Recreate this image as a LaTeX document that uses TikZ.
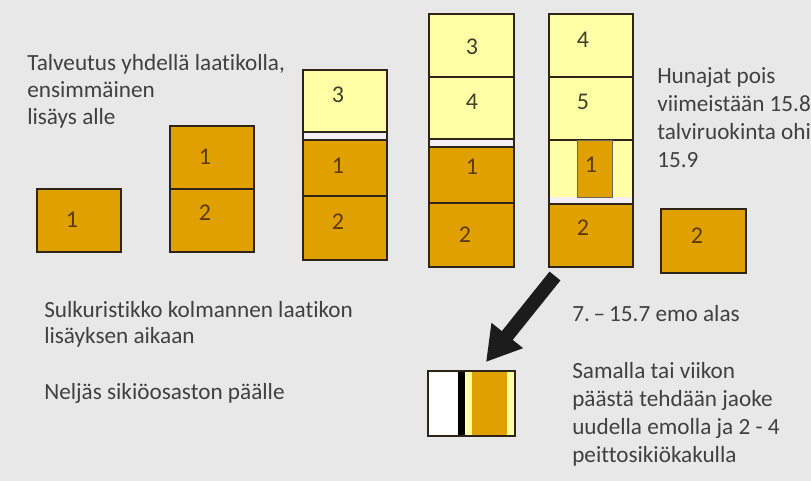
\documentclass[tikz,border=0pt]{standalone}
\usepackage{fontspec}
\setmainfont{Carlito}[RawFeature={-liga;-calt;-clig}]
\usetikzlibrary{arrows.meta}
\definecolor{bgc}{HTML}{E8E8E8}
\definecolor{orc}{HTML}{E0A000}
\definecolor{yec}{HTML}{FFFFA6}
\definecolor{gapc}{HTML}{F3EFF5}
\definecolor{edc}{HTML}{2E2418}
\definecolor{txc}{HTML}{404040}
\definecolor{nbr}{HTML}{5C3A00}
\definecolor{nye}{HTML}{40402A}
\definecolor{arc}{HTML}{1C1C1C}
\begin{document}
\begin{tikzpicture}[x=0.75pt,y=-0.75pt,
  obox/.style={fill=orc,draw=edc,line width=1.7pt},
  ybox/.style={fill=yec,draw=edc,line width=1.7pt},
  nb/.style={font=\fontsize{18}{20}\selectfont,text=nbr,inner sep=0pt},
  ny/.style={font=\fontsize{18}{20}\selectfont,text=nye,inner sep=0pt},
  txt/.style={text=txc,align=left,anchor=base west,inner sep=0pt}]
\fill[bgc] (0,0) rectangle (811,481);
\useasboundingbox (0,0) rectangle (811,481);
% box A
\draw[obox] (37,189) rectangle (121,252);
\node[nb] (a1) at (72,220) {1};
% box B
\draw[obox] (170,126) rectangle (254,189);
\draw[obox] (170,189) rectangle (254,252);
\node[nb] (b1) at (205,157) {1};
\node[nb] (b2) at (205,213) {2};
% box C
\fill[gapc] (303,132) rectangle (387,140);
\draw[ybox] (303,70) rectangle (387,132);
\draw[obox] (303,140) rectangle (387,196);
\draw[obox] (303,196) rectangle (387,260);
\draw[edc,line width=1.7pt] (303,132) -- (303,140) (387,132) -- (387,140);
\node[ny] (c3) at (338,95) {3};
\node[nb] (c1) at (338,166) {1};
\node[nb] (c2) at (338,222) {2};
% box D
\fill[gapc] (429,139) rectangle (514,147);
\draw[ybox] (429,14) rectangle (514,77);
\draw[ybox] (429,77) rectangle (514,139);
\draw[obox] (429,147) rectangle (514,203);
\draw[obox] (429,203) rectangle (514,267);
\draw[edc,line width=1.7pt] (429,139) -- (429,147) (514,139) -- (514,147);
\node[ny] (d3) at (472,47) {3};
\node[ny] (d4) at (472,102) {4};
\node[nb] (d1) at (472,167) {1};
\node[nb] (d2) at (465,235) {2};
% box E
\fill[gapc] (549,197) rectangle (633,204);
\fill[yec] (549,140) rectangle (633,197);
\draw[ybox] (549,14) rectangle (633,77);
\draw[ybox] (549,77) rectangle (633,140);
\draw[fill=orc,draw=edc!70,line width=0.6pt] (577,140) rectangle (612,197);
\draw[obox] (549,204) rectangle (633,267);
\draw[edc,line width=1.7pt] (549,140) -- (549,204) (633,140) -- (633,204);
\node[ny] (e4) at (583,40) {4};
\node[ny] (e5) at (583,102) {5};
\node[nb] (e1) at (591,165) {1};
\node[nb] (e2) at (583,228) {2};
% box F
\draw[obox] (661,209) rectangle (746,273);
\node[nb] (f2) at (697,236) {2};
% small box
\fill[white] (428,371) rectangle (458,436);
\fill[black] (458,371) rectangle (465,436);
\fill[yec] (465,371) rectangle (515,436);
\fill[orc] (472,371) rectangle (507,436);
\draw[edc,line width=1.7pt] (428,371) rectangle (515,436);
% arrow
\coordinate (atail) at (555,276);
\coordinate (atip) at (486,362);
\draw[arc,line width=10.5pt,-{Triangle[length=25.5pt,width=28.5pt]}] (atail) -- (atip);
% texts (anchor = baseline of last line)
\node[txt,font=\fontsize{17.4}{20.6}\selectfont] (t1) at (27,125) {Talveutus yhdellä laatikolla,\\ensimmäinen\\lisäys alle};
\node[txt,font=\fontsize{17.4}{21}\selectfont] (t2) at (657,168) {Hunajat pois\\viimeistään 15.8\\talviruokinta ohi\\15.9};
\node[txt,font=\fontsize{17.4}{19.5}\selectfont] (t3) at (44,343) {Sulkuristikko kolmannen laatikon\\lisäyksen aikaan};
\node[txt,font=\fontsize{17.4}{21}\selectfont] (t4) at (44,399) {Neljäs sikiöosaston päälle};
\node[txt,font=\fontsize{17.4}{21}\selectfont] (t5) at (572,321) {7.\,–\,15.7 emo alas};
\node[txt,font=\fontsize{17.4}{21}\selectfont] (t6) at (572,462) {Samalla tai viikon\\päästä tehdään jaoke\\uudella emolla ja 2 - 4\\peittosikiökakulla};
\end{tikzpicture}
\end{document}
